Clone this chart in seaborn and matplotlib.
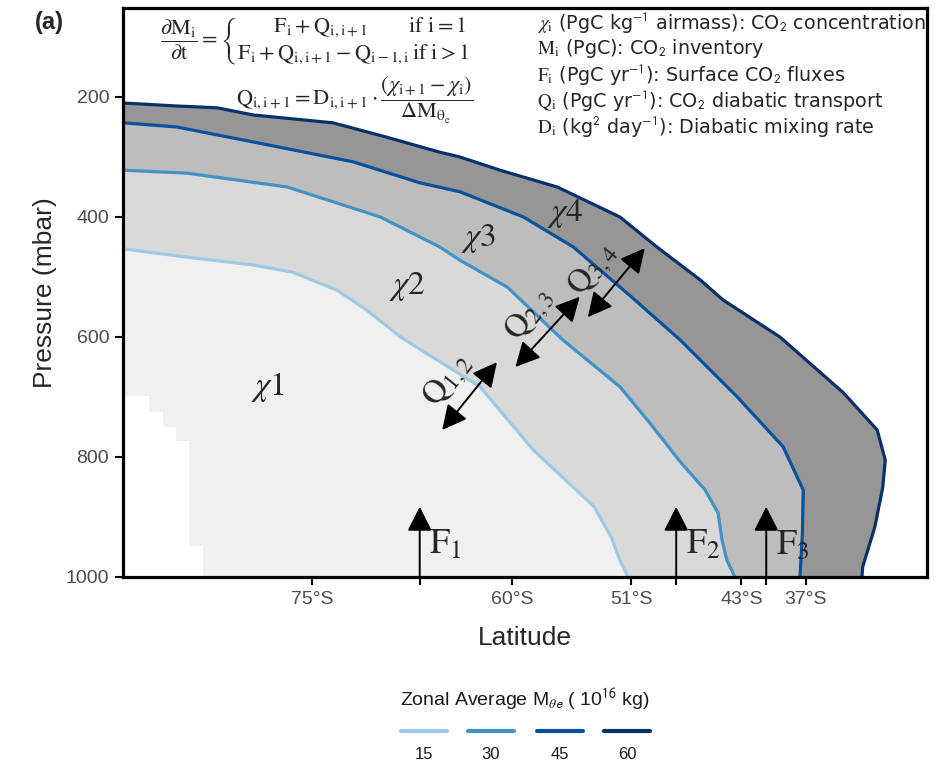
import numpy as np
import pandas as pd
import matplotlib
matplotlib.use("Agg")
import matplotlib.pyplot as plt
from matplotlib.lines import Line2D
import seaborn as sns

# ---------------- data (x = position along the latitude axis, 0-100; y = pressure, mbar)
levels = ["15", "30", "45", "60"]
line_colors = ["#9ecae1", "#4292c6", "#08519c", "#08306b"]
band_colors = ["#f0f0f0", "#d9d9d9", "#bdbdbd", "#969696"]

u15 = [0.0, 8.0, 16.2, 21.1, 26.6, 30.3, 34.5, 44.4, 51.0, 55.0, 58.6, 60.7, 61.8, 62.8]
p15 = [453, 467, 480, 492, 522, 555, 600, 683, 788, 838, 883, 933, 972, 1000]

u30 = [0.0, 8.0, 20.4, 32.0, 39.4, 41.9, 47.8, 54.7, 61.8, 65.5, 69.3, 72.4, 74.0, 74.5, 75.1, 76.1]
p30 = [322, 327, 350, 400, 450, 472, 517, 605, 683, 743, 808, 855, 893, 938, 972, 1000]

u45 = [0.0, 6.7, 16.2, 28.6, 36.9, 41.9, 49.8, 56.0, 62.7, 69.3, 76.4, 82.1, 84.6, 84.5, 84.2]
p45 = [243, 250, 275, 308, 343, 358, 400, 450, 527, 605, 700, 783, 855, 927, 1000]

u60 = [0.0, 6.7, 11.7, 16.2, 26.1, 32.8, 39.4, 41.9, 46.9, 54.0, 61.8, 66.4, 71.8, 74.6,
       81.7, 89.6, 93.8, 94.8, 94.5, 93.5, 92.0, 91.9]
p60 = [210, 215, 218, 230, 243, 267, 292, 300, 322, 350, 400, 450, 505, 538,
       600, 693, 755, 805, 850, 917, 983, 1000]

# masked (white) staircase near the pole
mask_u = [0.0, 3.2, 5.0, 6.6, 8.2, 10.0]
mask_top = [698, 725, 750, 773, 948, 948]

lat_tick_pos = [23.5, 48.4, 63.2, 76.9, 84.9]
lat_tick_labels = ["75°S", "60°S", "51°S", "43°S", "37°S"]
flux_pos = [36.9, 68.8, 80.0]
flux_labels = [r"$\mathrm{F_1}$", r"$\mathrm{F_2}$", r"$\mathrm{F_3}$"]
flux_top = 883

p_ticks = [200, 400, 600, 800, 1000]

chi_labels = [r"$\chi\mathrm{1}$", r"$\chi\mathrm{2}$", r"$\chi\mathrm{3}$", r"$\chi\mathrm{4}$"]
chi_pos_u = [18.0, 35.3, 44.2, 55.0]
chi_pos_p = [683, 516, 436, 395]

q_labels = [r"$\mathrm{Q_{1,2}}$", r"$\mathrm{Q_{2,3}}$", r"$\mathrm{Q_{3,4}}$"]
q_start_u = [39.7, 48.8, 57.8]
q_start_p = [755, 650, 567]
q_end_u = [46.5, 56.8, 64.9]
q_end_p = [642, 533, 452]
q_text_u = [40.4, 50.6, 58.5]
q_text_p = [672, 563, 488]

# ---------------- style
sns.set_theme(style="white")
plt.rcParams["font.family"] = ["Liberation Sans", "DejaVu Sans"]
plt.rcParams["mathtext.fontset"] = "stix"

fig = plt.figure(figsize=(9.45, 7.64), dpi=100)
ax = fig.add_axes([0.1302, 0.2448, 0.8508, 0.7447])

lines_u = [u15, u30, u45, u60]
lines_p = [p15, p30, p45, p60]

# bands (drawn from outermost inward)
for uu, pp, col in reversed(list(zip(lines_u, lines_p, band_colors))):
    ax.fill(list(uu) + [0.0], list(pp) + [1000], color=col, lw=0, zorder=1)

ax.fill_between(mask_u, mask_top, 1000, step="post", color="white", lw=0, zorder=1.5)

df = pd.concat(
    [pd.DataFrame({"u": uu, "p": pp, "level": lv}) for uu, pp, lv in zip(lines_u, lines_p, levels)],
    ignore_index=True,
)
sns.lineplot(data=df, x="u", y="p", hue="level", hue_order=levels,
             palette=dict(zip(levels, line_colors)), sort=False, estimator=None,
             lw=2.3, legend=False, ax=ax, zorder=3)

ax.set_xlim(0, 100)
ax.set_ylim(1000, 51.7)

ax.set_xticks(lat_tick_pos + flux_pos)
ax.set_xticklabels(lat_tick_labels + [""] * len(flux_pos))
ax.set_yticks(p_ticks)
ax.set_yticklabels([str(v) for v in p_ticks])
ax.tick_params(axis="both", which="both", direction="out", length=6, width=1.5,
               color="black", labelcolor="#4d4d4d", labelsize=14, pad=4,
               bottom=True, left=True)
for s in ax.spines.values():
    s.set_visible(True)
    s.set_color("black")
    s.set_linewidth(2.3)
    s.set_zorder(5)

ax.set_xlabel("Latitude", fontsize=19, labelpad=13)
ax.set_ylabel("Pressure (mbar)", fontsize=19, labelpad=6)

# chi labels
for lab, uu, pp in zip(chi_labels, chi_pos_u, chi_pos_p):
    ax.text(uu, pp, lab, fontsize=24, ha="center", va="center", zorder=6)

# surface flux arrows
for xu, lab in zip(flux_pos, flux_labels):
    ax.annotate("", xy=(xu, flux_top), xytext=(xu, 1000),
                arrowprops=dict(arrowstyle="-|>,head_length=0.75,head_width=0.38",
                                color="black", lw=1.4, shrinkA=0, shrinkB=0,
                                mutation_scale=20), zorder=6)
    ax.text(xu + 1.2, 945, lab, fontsize=26, ha="left", va="center", zorder=6)

# diabatic transport arrows
for su, sp, eu, ep, tu, tp, lab in zip(q_start_u, q_start_p, q_end_u, q_end_p,
                                       q_text_u, q_text_p, q_labels):
    ax.annotate("", xy=(eu, ep), xytext=(su, sp),
                arrowprops=dict(arrowstyle="<|-|>,head_length=0.75,head_width=0.38",
                                color="black", lw=1.4, shrinkA=0, shrinkB=0,
                                mutation_scale=20), zorder=6)
    ax.text(tu, tp, lab, fontsize=24, ha="center", va="center",
            rotation=51, rotation_mode="anchor", zorder=6)

# equations
eq1 = (r"$\dfrac{\partial\mathrm{M_i}}{\partial\mathrm{t}}=\left\{"
       r"\genfrac{}{}{0}{0}{\qquad\mathrm{F_i+Q_{i,i+1}}\qquad\ \,\mathrm{if\ i=1}}"
       r"{\mathrm{F_i+Q_{i,i+1}-Q_{i-1,i}\,if\ i>1}}\right.$")
fig.text(0.169, 0.947, eq1, fontsize=16, ha="left", va="center")
eq2 = (r"$\mathrm{Q_{i,i+1}}=\mathrm{D_{i,i+1}}\cdot"
       r"\dfrac{(\chi_\mathrm{i+1}-\chi_\mathrm{i})}{\Delta\mathrm{M_{\theta_e}}}$")
fig.text(0.5005, 0.869, eq2, fontsize=16, ha="right", va="center")

# variable definitions
defs = [
    r"$\chi_\mathrm{i}$ (PgC kg$^\mathsf{-1}$ airmass): CO$_\mathsf{2}$ concentration",
    r"$\mathrm{M_i}$ (PgC): CO$_\mathsf{2}$ inventory",
    r"$\mathrm{F_i}$ (PgC yr$^\mathsf{-1}$): Surface CO$_\mathsf{2}$ fluxes",
    r"$\mathrm{Q_i}$ (PgC yr$^\mathsf{-1}$): CO$_\mathsf{2}$ diabatic transport",
    r"$\mathrm{D_i}$ (kg$^\mathsf{2}$ day$^\mathsf{-1}$): Diabatic mixing rate",
]
for k, t in enumerate(defs):
    fig.text(0.568, 0.971 - k * 0.034, t, fontsize=13.8, ha="left", va="center",
             family=["DejaVu Sans"])

fig.text(0.037, 0.971, "(a)", fontsize=17, fontweight="bold", ha="left", va="center")

# legend (horizontal, labels under keys)
fig.text(0.5556, 0.0838, r"Zonal Average M$_{\theta\mathsf{e}}$ ( 10$^{\mathsf{16}}$ kg)",
         fontsize=14, ha="center", va="center", color="#1a1a1a")
key_x0 = [0.4243, 0.4952, 0.5683, 0.6392]
key_w = 0.0487
for x0, col, lv in zip(key_x0, line_colors, levels):
    fig.add_artist(Line2D([x0, x0 + key_w], [0.0432, 0.0432], color=col, lw=3,
                          transform=fig.transFigure))
    fig.text(x0 + key_w / 2, 0.0118, lv, fontsize=12, ha="center", va="center",
             color="#1a1a1a")

fig.savefig("out.png", dpi=100)
